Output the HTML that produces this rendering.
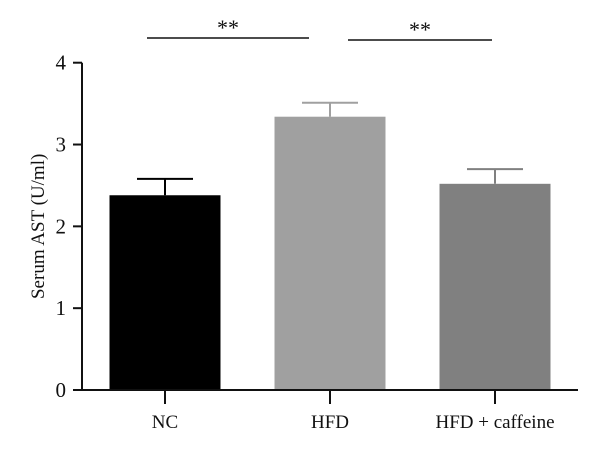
<!DOCTYPE html>
<html><head><meta charset="utf-8"><style>
body{margin:0;background:#fff}
svg text{font-family:"Liberation Serif",serif;fill:#111}
</style></head><body>
<svg width="600" height="449">
<g id="g"></g>
</svg>
<script>
const categories=["NC","HFD","HFD + caffeine"];
const values=[2.38,3.34,2.52];
const errors=[0.2,0.17,0.18];
const colors=["#000000","#a0a0a0","#808080"];
const yTicks=[0,1,2,3,4];
const sigPairs=[[0,1],[1,2]];
const sigLabels=["**","**"];
const ns="http://www.w3.org/2000/svg";
const g=document.getElementById('g');
const y0=390,y4=62.7,xAxis=82,xEnd=578;
const y=v=>y0-(y0-y4)*v/4;
const xc=i=>165+i*165;
const bw=111;
function mk(t,a,p){const e=document.createElementNS(ns,t);for(const k in a)e.setAttribute(k,a[k]);(p||g).appendChild(e);return e;}
categories.forEach((c,i)=>{
 const r=mk('rect',{x:xc(i)-bw/2,y:y(values[i]),width:bw,height:y0-y(values[i]),fill:colors[i]});
 
 
 const ec=i==0?'#000':colors[i];
 const e=mk('path',{d:`M${xc(i)},${y(values[i])}V${y(values[i]+errors[i])}M${xc(i)-28},${y(values[i]+errors[i])}H${xc(i)+28}`,stroke:ec,'stroke-width':2,fill:'none'});
 
 
 mk('line',{x1:xc(i),x2:xc(i),y1:y0,y2:y0+14,stroke:'#111','stroke-width':2});
 const t=mk('text',{x:xc(i),y:y0+38,'text-anchor':'middle','font-size':19});
 t.textContent=c;
 
 
});
yTicks.forEach(v=>{
 mk('line',{x1:xAxis-9,x2:xAxis,y1:y(v),y2:y(v),stroke:'#111','stroke-width':2});
 const t=mk('text',{x:xAxis-16,y:y(v)+7,'text-anchor':'end','font-size':21});
 t.textContent=v;
 
 
});
const ax=mk('path',{d:`M${xAxis},${y4}V${y0}M${xAxis-9},${y0}H${xEnd}`,stroke:'#111','stroke-width':2,fill:'none'});


const yt=mk('text',{x:0,y:0,'text-anchor':'middle','font-size':19,transform:`translate(44,${(y0+y4)/2}) rotate(-90)`});
yt.textContent='Serum AST (U/ml)';


sigPairs.forEach((p,k)=>{
 const x1=k?348:147,x2=k?492:309;
 const ly=k?40:38;
 mk('line',{x1:x1,x2:x2,y1:ly,y2:ly,stroke:'#111','stroke-width':1.5});
 const t=mk('text',{x:(x1+x2)/2,y:ly-3,'text-anchor':'middle','font-size':22});
 t.textContent=sigLabels[k];
 
 
});
</script>
</body></html>
